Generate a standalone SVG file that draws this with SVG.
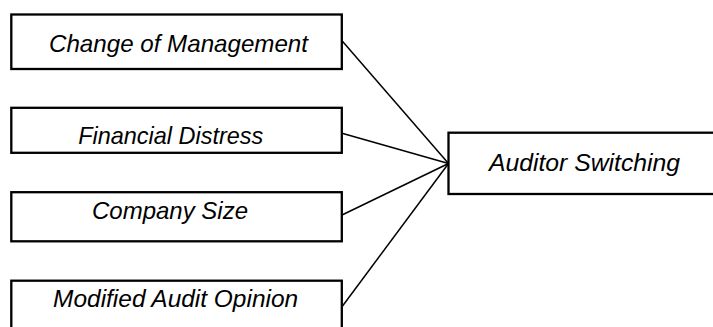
<svg xmlns="http://www.w3.org/2000/svg" width="713" height="327" viewBox="0 0 713 327">
<style>
.box{fill:#fff;stroke:#000;stroke-width:2.3}
.lbl{font-family:"Liberation Sans",Arial,sans-serif;font-style:italic;font-size:24px;fill:#000;text-anchor:middle}
.con line{stroke:#000;stroke-width:1.5}
</style>
<rect width="713" height="327" fill="#fff"/>
<g class="con" id="connectors">
<line x1="342" y1="40.7" x2="448.5" y2="163.5"/>
<line x1="342" y1="133.3" x2="448.5" y2="163.5"/>
<line x1="342" y1="215" x2="448.5" y2="163.5"/>
<line x1="342" y1="306.7" x2="448.5" y2="163.5"/>
</g>
<g id="n1"><rect class="box" x="11.3" y="14.5" width="330.5" height="54.5"/><text class="lbl" x="178.5" y="51.7" textLength="259" lengthAdjust="spacingAndGlyphs">Change of Management</text></g>
<g id="n2"><rect class="box" x="11.3" y="107.8" width="330.5" height="45"/><text class="lbl" x="170.7" y="144" textLength="185" lengthAdjust="spacingAndGlyphs">Financial Distress</text></g>
<g id="n3"><rect class="box" x="11.3" y="192.2" width="330.5" height="49.1"/><text class="lbl" x="170" y="219.3" textLength="156" lengthAdjust="spacingAndGlyphs">Company Size</text></g>
<g id="n4"><rect class="box" x="11.3" y="280.7" width="330.5" height="60"/><text class="lbl" x="175.6" y="306.7" textLength="245" lengthAdjust="spacingAndGlyphs">Modified Audit Opinion</text></g>
<g id="n5"><rect class="box" x="448.5" y="132.7" width="270" height="61.3"/><text class="lbl" x="584.5" y="170.7" textLength="191" lengthAdjust="spacingAndGlyphs">Auditor Switching</text></g>
</svg>
